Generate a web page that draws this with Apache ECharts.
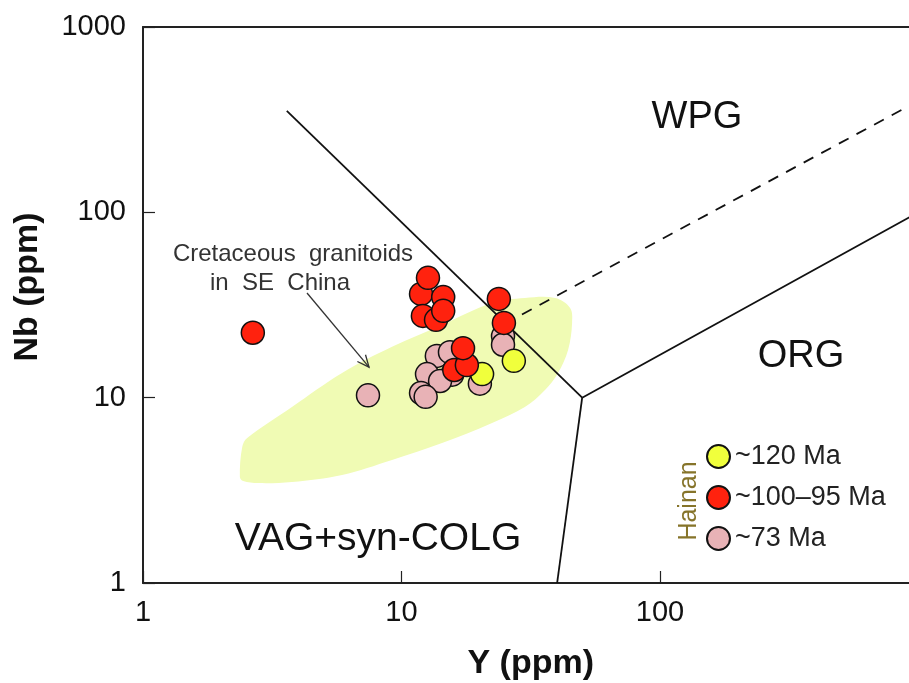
<!DOCTYPE html>
<html><head><meta charset="utf-8">
<script src="https://cdn.jsdelivr.net/npm/echarts@6/dist/echarts.min.js"></script>
<style>html,body{margin:0;padding:0;background:#fff}#c{width:909px;height:683px}</style>
</head><body><div id="c"></div>
<script>
// ---- data (Y ppm, Nb ppm) ----
const xTickValues = [1, 10, 100, 1000];
const yTickValues = [1, 10, 100, 1000];
const seriesNames = ['~120 Ma', '~100–95 Ma', '~73 Ma'];
const pink73 = [[7.42,10.3],[13.7,16.8],[15.4,17.6],[15.7,13.3],[12.55,13.4],[14.1,12.3],[11.9,10.6],[12.4,10.1],[20.1,11.9],[24.7,21.5],[24.7,19.3]];
const red100 = [[2.66,22.4],[11.9,36.3],[12.1,27.6],[13.6,26.3],[14.5,34.9],[14.5,29.4],[12.66,44.3],[23.8,34.1],[24.9,25.3],[16.0,14.1],[17.9,15.0],[17.3,18.5]];
const yellow120 = [[20.5,13.4],[27.2,15.8]];
const fieldSEChina = [[2.37,3.73],[2.42,5.42],[2.53,6.06],[3.77,8.91],[5.89,13.6],[9.19,18.8],[14.35,24.7],[22.4,32.4],[30.0,34.5],[39.3,34.5],[44.9,30.5],[45.7,25.3],[44.1,18.1],[40.3,13.6],[35.9,11.0],[30.0,8.91],[22.4,7.30],[14.35,5.69],[9.19,4.61],[5.89,3.83],[3.77,3.51],[2.79,3.46],[2.44,3.55]];
const lineVagWpg = [[3.6,353],[50,10]];
const lineVagOrg = [[50,10],[40,1]];
const lineOrgWpg = [[50,10],[1000,100]];
const lineWpgOrgDashed = [[25,25],[1000,400]];
const arrowPts = [[4.31,36.7],[7.49,14.6]];

const FONT = '"Liberation Sans", Arial, sans-serif';
const chart = echarts.init(document.getElementById('c'), null, {renderer: 'canvas'});

function boundary(data, dashed) {
  return {
    type: 'line', data: data, symbol: 'none', silent: true, clip: true, z: 3,
    lineStyle: {color: '#111', width: 1.8, type: dashed ? [11, 9] : 'solid'}
  };
}
function scatter(name, data, color, z) {
  return {
    type: 'scatter', name: name, data: data, symbolSize: 23, z: z,
    itemStyle: {color: color, borderColor: '#111', borderWidth: 1.5, opacity: 1}
  };
}

const option = {
  animation: false,
  backgroundColor: '#fff',
  grid: {left: 143, top: 27, width: 775.5, height: 556, containLabel: false, outerBoundsMode: 'none'},
  xAxis: [{
    type: 'log', logBase: 10, min: 1, max: 1000,
    axisLine: {show: true, onZero: false, lineStyle: {color: '#222', width: 2}},
    axisTick: {show: true, inside: true, length: 12, lineStyle: {color: '#222', width: 1.2}},
    axisLabel: {fontSize: 29, color: '#111', fontFamily: FONT, margin: 15,
      formatter: v => (xTickValues.indexOf(v) >= 0 && v < 1000) ? String(v) : ''},
    splitLine: {show: false},
    name: 'Y (ppm)', nameLocation: 'middle', nameGap: 64,
    nameTextStyle: {fontSize: 34, fontWeight: 'bold', color: '#111', fontFamily: FONT}
  }, {
    type: 'log', logBase: 10, min: 1, max: 1000, position: 'top',
    axisLine: {show: true, onZero: false, lineStyle: {color: '#222', width: 2}},
    axisTick: {show: false}, axisLabel: {show: false}, splitLine: {show: false}
  }],
  yAxis: {
    type: 'log', logBase: 10, min: 1, max: 1000,
    axisLine: {show: true, onZero: false, lineStyle: {color: '#222', width: 2}},
    axisTick: {show: true, inside: true, length: 12, lineStyle: {color: '#222', width: 1.2}},
    axisLabel: {fontSize: 29, color: '#111', fontFamily: FONT, margin: 17,
      formatter: v => yTickValues.indexOf(v) >= 0 ? String(v) : ''},
    splitLine: {show: false}
  },
  legend: {
    orient: 'vertical', left: 701, top: 438,
    data: seriesNames, itemWidth: 23, itemHeight: 23, itemGap: 14,
    icon: 'circle',
    textStyle: {fontSize: 27, lineHeight: 27, color: '#222', fontFamily: FONT}
  },
  graphic: [
    {type: 'text', x: 697, y: 118, style: {text: 'WPG', font: '38px ' + FONT, fill: '#111', textAlign: 'center', textVerticalAlign: 'middle'}},
    {type: 'text', x: 801, y: 357, style: {text: 'ORG', font: '38px ' + FONT, fill: '#111', textAlign: 'center', textVerticalAlign: 'middle'}},
    {type: 'text', x: 378, y: 539, style: {text: 'VAG+syn-COLG', font: '39px ' + FONT, fill: '#111', textAlign: 'center', textVerticalAlign: 'middle'}},
    {type: 'text', x: 293, y: 254, style: {text: 'Cretaceous  granitoids', font: '24px ' + FONT, fill: '#333', textAlign: 'center', textVerticalAlign: 'middle'}},
    {type: 'text', x: 280, y: 283, style: {text: 'in  SE  China', font: '24px ' + FONT, fill: '#333', textAlign: 'center', textVerticalAlign: 'middle'}},
    {type: 'text', x: 28, y: 287, rotation: Math.PI / 2, style: {text: 'Nb (ppm)', font: 'bold 34px ' + FONT, fill: '#111', textAlign: 'center', textVerticalAlign: 'middle'}},
    {type: 'text', x: 689, y: 501, rotation: Math.PI / 2, style: {text: 'Hainan', font: '25px ' + FONT, fill: '#86742a', textAlign: 'center', textVerticalAlign: 'middle'}}
  ],
  series: [
    {
      type: 'custom', silent: true, z: 1, clip: true,
      data: fieldSEChina, encode: {x: 0, y: 1},
      renderItem: function (params, api) {
        if (params.dataIndex !== 0) return null;
        const pts = fieldSEChina.map(p => api.coord(p));
        return {type: 'polygon', shape: {points: pts, smooth: 0.35}, style: {fill: '#f0fbb4', stroke: null}};
      }
    },
    {
      type: 'custom', silent: true, z: 2,
      data: arrowPts, encode: {x: 0, y: 1},
      renderItem: function (params, api) {
        if (params.dataIndex !== 0) return null;
        const a = api.coord(arrowPts[0]), b = api.coord(arrowPts[1]);
        const ang = Math.atan2(b[1] - a[1], b[0] - a[0]);
        const L = 13, w = 0.42;
        const h1 = [b[0] - L * Math.cos(ang - w), b[1] - L * Math.sin(ang - w)];
        const h2 = [b[0] - L * Math.cos(ang + w), b[1] - L * Math.sin(ang + w)];
        return {type: 'group', children: [
          {type: 'line', shape: {x1: a[0], y1: a[1], x2: b[0], y2: b[1]}, style: {stroke: '#333', lineWidth: 1.3}},
          {type: 'polyline', shape: {points: [h1, b, h2]}, style: {stroke: '#333', lineWidth: 1.3, fill: null}}
        ]};
      }
    },
    boundary(lineVagWpg, false),
    boundary(lineVagOrg, false),
    boundary(lineOrgWpg, false),
    boundary(lineWpgOrgDashed, true),
    scatter(seriesNames[2], pink73, '#e8b2b6', 4),
    scatter(seriesNames[0], yellow120, '#f0ff3c', 5),
    scatter(seriesNames[1], red100, '#ff220e', 6)
  ]
};
chart.setOption(option);
</script>
</body></html>
